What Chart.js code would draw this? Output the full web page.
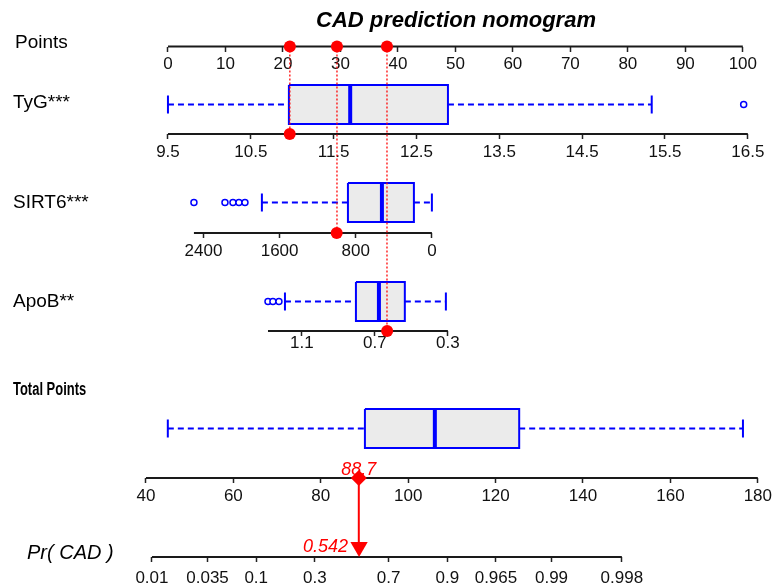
<!DOCTYPE html>
<html lang="en">
  <head>
    <meta charset="UTF-8" />
    <title>CAD prediction nomogram</title>
    <script src="https://cdn.jsdelivr.net/npm/chart.js"></script>
    <style>
      html,
      body {
        margin: 0;
        padding: 0;
        background: #ffffff;
      }
      .chart-box {
        position: relative;
        width: 775px;
        height: 585px;
      }
    </style>
  </head>
  <body>
    <div class="chart-box"><canvas id="nomogram"></canvas></div>
    <script>
      // tick labels of every axis
      const pointTicks = [0, 10, 20, 30, 40, 50, 60, 70, 80, 90, 100];
      const tygTicks = [9.5, 10.5, 11.5, 12.5, 13.5, 14.5, 15.5, 16.5];
      const sirt6Ticks = [2400, 1600, 800, 0];
      const apobTicks = [1.1, 0.7, 0.3];
      const totalTicks = [40, 60, 80, 100, 120, 140, 160, 180];
      const probTicks = [0.01, 0.035, 0.1, 0.3, 0.7, 0.9, 0.965, 0.99, 0.998];

      // box plots: [lower whisker, q1, median, q3, upper whisker]
      const tygBox = [9.5, 10.96, 11.7, 12.88, 15.34];
      const tygOutliers = [16.45];
      const sirt6Box = [1786, 882, 525, 189, 0];
      const sirt6Outliers = [2500, 2174, 2090, 2027, 1964];
      const apobBox = [1.193, 0.804, 0.678, 0.536, 0.311];
      const apobOutliers = [1.286, 1.259, 1.226];
      const totalBox = [45.0, 90.1, 106.1, 125.4, 176.6];

      // extent of each axis line
      const pointRange = [0, 100];
      const tygRange = [9.5, 16.5];
      const sirt6Range = [2500, 0];
      const apobRange = [1.286, 0.3];
      const totalRange = [40, 180];
      const probRange = [0.01, 0.998];

      // the patient marked in red
      const rowNames = ["TyG***", "SIRT6***", "ApoB**"];
      const caseValues = [10.97, 1000, 0.633];
      const casePoints = [21.2, 29.4, 38.1];
      const caseTotal = 88.7;
      const caseProb = 0.542;

      const W = 775;
      const FONT = '"Liberation Sans", Arial, sans-serif';
      const BLUE = "#0000ff";
      const RED = "#ff0000";
      const logit = (p) => Math.log(p / (1 - p));

      // where each axis sits: two value->pixel anchors, axis row y, box row y
      const rows = {
        points: { y: 46.5, from: [0, 168], to: [100, 743] },
        tyg: { y: 134, box: 104.5, from: [9.5, 168], to: [16.5, 748] },
        sirt6: { y: 233, box: 202.5, from: [2400, 203.5], to: [0, 432] },
        apob: { y: 331, box: 301.5, from: [1.1, 302], to: [0.3, 448] },
        total: { y: 478, box: 428.5, from: [40, 146], to: [180, 758] },
        prob: { y: 557, from: [logit(0.01), 152], to: [logit(0.998), 622] },
      };

      function xAxis(row, ticks, labels, padding) {
        const [v0, p0] = row.from;
        const [v1, p1] = row.to;
        const k = (v1 - v0) / (p1 - p0);
        const a = v0 - p0 * k;
        const b = v0 + (W - p0) * k;
        return {
          axis: "x",
          type: "linear",
          min: Math.min(a, b),
          max: Math.max(a, b),
          reverse: k < 0,
          position: { y: row.y },
          border: { display: false },
          grid: {
            drawOnChartArea: false,
            tickLength: 5,
            tickWidth: 1.5,
            tickColor: "#222",
          },
          ticks: {
            autoSkip: false,
            maxRotation: 0,
            minRotation: 0,
            padding: padding,
            color: "#111",
            font: { family: FONT, size: 17 },
            callback: (v, i) => labels[i],
          },
          afterBuildTicks: (s) => {
            s.ticks = ticks.map((v) => ({ value: v }));
          },
        };
      }

      function line(xAxisID, pts, color, width, dash, order) {
        return {
          type: "line",
          xAxisID: xAxisID,
          yAxisID: "y",
          data: pts,
          borderColor: color,
          borderWidth: width,
          borderDash: dash || [],
          pointRadius: 0,
          fill: false,
          tension: 0,
          order: order,
        };
      }

      function dots(xAxisID, xs, y, style) {
        return Object.assign(
          {
            type: "scatter",
            xAxisID: xAxisID,
            yAxisID: "y",
            data: xs.map((v) => ({ x: v, y: y })),
            pointStyle: "circle",
            pointRadius: 6,
            backgroundColor: RED,
            borderWidth: 0,
            order: 0,
          },
          style
        );
      }

      function boxPlot(xAxisID, s, cy, outliers) {
        const [lo, q1, med, q3, hi] = s;
        const h = 19.5;
        const cap = 9;
        const out = [
          Object.assign(
            line(xAxisID, [
              { x: q1, y: cy - h },
              { x: q3, y: cy - h },
              { x: q3, y: cy + h },
              { x: q1, y: cy + h },
              { x: q1, y: cy - h },
            ], BLUE, 2, null, 4),
            { backgroundColor: "#ebebeb", fill: "shape" }
          ),
          line(xAxisID, [{ x: med, y: cy - h }, { x: med, y: cy + h }], BLUE, 4, null, 3),
          line(xAxisID, [{ x: lo, y: cy }, { x: q1, y: cy }], BLUE, 2, [6, 4], 4),
          line(xAxisID, [{ x: q3, y: cy }, { x: hi, y: cy }], BLUE, 2, [6, 4], 4),
          line(xAxisID, [{ x: lo, y: cy - cap }, { x: lo, y: cy + cap }], BLUE, 2, null, 4),
          line(xAxisID, [{ x: hi, y: cy - cap }, { x: hi, y: cy + cap }], BLUE, 2, null, 4),
        ];
        if (outliers) {
          out.push(
            dots(xAxisID, outliers, cy, {
              pointRadius: 3,
              borderWidth: 1.5,
              borderColor: BLUE,
              backgroundColor: "#ffffff",
              order: 3,
            })
          );
        }
        return out;
      }

      function axisLine(xAxisID, range, y) {
        return line(xAxisID, [{ x: range[0], y: y }, { x: range[1], y: y }], "#1a1a1a", 1.8, null, 5);
      }

      const datasets = [
        axisLine("xPoints", pointRange, rows.points.y),
        axisLine("xTyg", tygRange, rows.tyg.y),
        axisLine("xSirt6", sirt6Range, rows.sirt6.y),
        axisLine("xApob", apobRange, rows.apob.y),
        axisLine("xTotal", totalRange, rows.total.y),
        axisLine("xProb", probRange.map(logit), rows.prob.y),
        ...boxPlot("xTyg", tygBox, rows.tyg.box, tygOutliers),
        ...boxPlot("xSirt6", sirt6Box, rows.sirt6.box, sirt6Outliers),
        ...boxPlot("xApob", apobBox, rows.apob.box, apobOutliers),
        ...boxPlot("xTotal", totalBox, rows.total.box, null),
      ];

      // red dotted guides from the Points axis down to each variable axis
      const varRows = [rows.tyg, rows.sirt6, rows.apob];
      const varAxes = ["xTyg", "xSirt6", "xApob"];
      casePoints.forEach((p, i) => {
        datasets.push(
          line("xPoints", [{ x: p, y: rows.points.y }, { x: p, y: varRows[i].y }], "rgba(255,0,0,0.85)", 1.5, [2, 2], 1)
        );
        datasets.push(dots(varAxes[i], [caseValues[i]], varRows[i].y));
      });
      datasets.push(dots("xPoints", casePoints, rows.points.y));

      // total points -> probability
      datasets.push(line("xTotal", [{ x: caseTotal, y: rows.total.y }, { x: caseTotal, y: rows.prob.y - 12 }], RED, 2, null, 1));
      datasets.push(dots("xTotal", [caseTotal], rows.total.y, { pointStyle: "rectRot", pointRadius: 8 }));
      datasets.push(dots("xProb", [logit(caseProb)], rows.prob.y - 10, { pointStyle: "triangle", rotation: 180, pointRadius: 10 }));

      const textPlugin = {
        id: "nomogramText",
        afterDraw(chart) {
          const ctx = chart.ctx;
          ctx.save();
          ctx.fillStyle = "#000";
          ctx.textBaseline = "alphabetic";

          ctx.textAlign = "center";
          ctx.font = "italic bold 22px " + FONT;
          ctx.fillText("CAD prediction nomogram", 456, 27);

          ctx.textAlign = "left";
          ctx.font = "19px " + FONT;
          ctx.fillText("Points", 15, 47.5);
          ctx.fillText(rowNames[0], 13, 108);
          ctx.fillText(rowNames[1], 13, 208);
          ctx.fillText(rowNames[2], 13, 307);

          // narrow bold heading, squeezed horizontally
          ctx.save();
          ctx.translate(13, 395);
          ctx.scale(0.72, 1);
          ctx.font = "bold 18px " + FONT;
          ctx.fillText("Total Points", 0, 0);
          ctx.restore();

          ctx.font = "italic 20px " + FONT;
          ctx.fillText("Pr( CAD )", 27, 559);

          ctx.fillStyle = RED;
          ctx.font = "italic 18px " + FONT;
          ctx.textAlign = "center";
          ctx.fillText(caseTotal.toFixed(1), chart.scales.xTotal.getPixelForValue(caseTotal), rows.total.y - 3);
          ctx.textAlign = "right";
          ctx.fillText(caseProb.toFixed(3), chart.scales.xProb.getPixelForValue(logit(caseProb)) - 11, rows.prob.y - 5);
          ctx.restore();
        },
      };

      new Chart(document.getElementById("nomogram"), {
        type: "scatter",
        data: { datasets: datasets },
        options: {
          responsive: true,
          maintainAspectRatio: false,
          animation: false,
          events: [],
          layout: { padding: 0, autoPadding: false },
          plugins: { legend: { display: false }, tooltip: { enabled: false } },
          scales: {
            y: { type: "linear", min: 0, max: 585, reverse: true, display: false },
            xPoints: xAxis(rows.points, pointTicks, pointTicks.map(String), 3),
            xTyg: xAxis(rows.tyg, tygTicks, tygTicks.map((v) => v.toFixed(1)), 3),
            xSirt6: xAxis(rows.sirt6, sirt6Ticks, sirt6Ticks.map(String), 3),
            xApob: xAxis(rows.apob, apobTicks, apobTicks.map(String), -3),
            xTotal: xAxis(rows.total, totalTicks, totalTicks.map(String), 3),
            xProb: xAxis(rows.prob, probTicks.map(logit), probTicks.map(String), 6),
          },
        },
        plugins: [textPlugin],
      });
    </script>
  </body>
</html>
